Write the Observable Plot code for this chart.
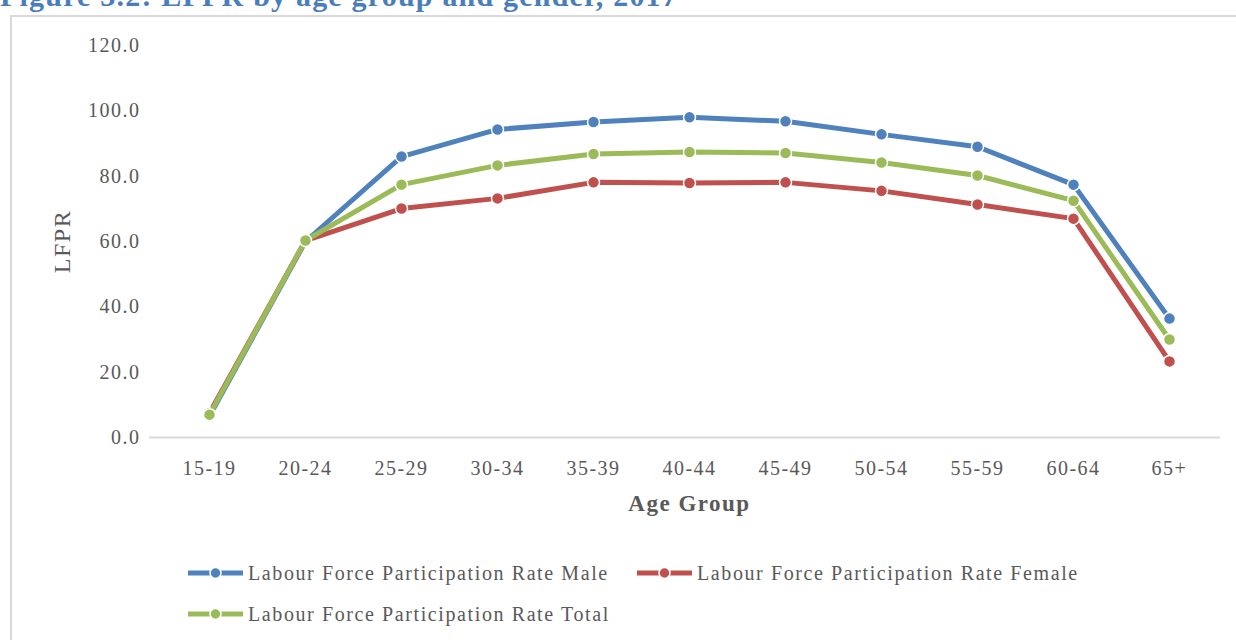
<!DOCTYPE html>
<html>
<head>
<meta charset="utf-8">
<script src="https://cdn.jsdelivr.net/npm/d3@7"></script>
<script src="https://cdn.jsdelivr.net/npm/@observablehq/plot@0.6"></script>
<style>
  html, body { margin: 0; padding: 0; background: #fff; overflow: hidden; width: 1236px; height: 640px; }
  #root { position: relative; width: 1236px; height: 640px; overflow: hidden; }
  #title { position: absolute; left: 0px; top: -19px; white-space: nowrap; line-height: 30px;
    font-family: "Liberation Serif", serif; font-weight: bold; font-size: 30px; letter-spacing: 1.2px; color: #4a7ebb; }
  #frame { position: absolute; left: 10px; top: 15px; width: 1240px; height: 700px; border: 2px solid #d9d9d9; box-sizing: border-box; }
  #chart { position: absolute; left: 0; top: 0; }
  .leg { position: absolute; display: flex; align-items: center; white-space: nowrap;
    font-family: "Liberation Serif", serif; font-size: 20px; letter-spacing: 1.6px; color: #595959; }
  .leg svg { margin-right: 4px; }
</style>
</head>
<body>
<div id="root">
  <div id="title">Figure 3.2: LFPR by age group and gender, 2017</div>
  <div id="frame"></div>
  <div id="chart"></div>
  <div id="legend"></div>
</div>
<script>
const ages = ["15-19","20-24","25-29","30-34","35-39","40-44","45-49","50-54","55-59","60-64","65+"];
const male   = [6.6, 60.0, 86.0, 94.3, 96.6, 98.0, 96.8, 92.8, 89.0, 77.4, 36.4];
const female = [7.5, 60.3, 70.1, 73.2, 78.1, 77.9, 78.1, 75.5, 71.3, 67.0, 23.3];
const total  = [7.0, 60.3, 77.4, 83.3, 86.8, 87.4, 87.1, 84.2, 80.2, 72.5, 30.0];
const seriesNames = ["Labour Force Participation Rate Male", "Labour Force Participation Rate Female", "Labour Force Participation Rate Total"];
const seriesColors = ["#4f81bd", "#c0504d", "#9bbb59"];
const yTicks = [0, 20, 40, 60, 80, 100, 120];

const seriesValues = [male, female, total];
const marks = [];
marks.push(Plot.ruleY([0], {stroke: "#d9d9d9", strokeWidth: 2, insetLeft: -9}));
seriesValues.forEach((vals, i) => {
  const data = ages.map((a, j) => ({age: a, value: vals[j]}));
  marks.push(Plot.line(data, {x: "age", y: "value", stroke: seriesColors[i], strokeWidth: 5}));
  marks.push(Plot.dot(data, {x: "age", y: "value", r: 6, fill: seriesColors[i], stroke: "#fff", strokeWidth: 1.5}));
});
marks.push(Plot.text(["Age Group"], {text: d => d, frameAnchor: "bottom", textAnchor: "middle", dy: 73, fontWeight: "bold", fontSize: 23, fill: "#595959"}));
marks.push(Plot.text(["LFPR"], {text: d => d, frameAnchor: "left", textAnchor: "middle", dx: -96, rotate: -90, fontSize: 24, fill: "#595959", style: {letterSpacing: "0px"}}));

const chart = Plot.plot({
  width: 1236,
  height: 530,
  marginTop: 45,
  marginBottom: 93,
  marginLeft: 158,
  marginRight: 16,
  style: {fontFamily: "Liberation Serif, serif", fontSize: "20px", color: "#595959", background: "transparent", letterSpacing: "1.5px"},
  x: {type: "point", domain: ages, padding: 0.5, tickSize: 0, tickPadding: 23, label: null},
  y: {domain: [0, 120], ticks: yTicks, tickFormat: d3.format(".1f"), tickSize: 0, tickPadding: 18, label: null},
  marks
});
document.getElementById("chart").appendChild(chart);

const legend = document.getElementById("legend");
const legPos = [[188, 573], [637, 573], [188, 614]];
seriesNames.forEach((name, i) => {
  const el = document.createElement("div");
  el.className = "leg";
  el.style.left = legPos[i][0] + "px";
  el.style.top = (legPos[i][1] - 12) + "px";
  el.style.height = "24px";
  el.innerHTML = `<svg width="56" height="14"><line x1="0" x2="55" y1="7" y2="7" stroke="${seriesColors[i]}" stroke-width="5"/><circle cx="27.5" cy="7" r="5.5" fill="${seriesColors[i]}" stroke="#fff" stroke-width="1.5"/></svg><span>${name}</span>`;
  legend.appendChild(el);
});
</script>
</body>
</html>
